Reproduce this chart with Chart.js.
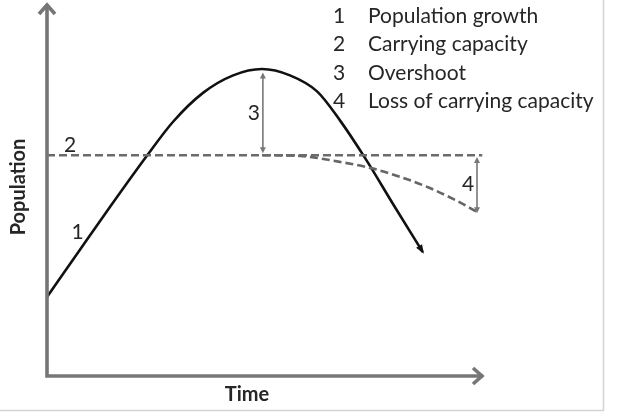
<!DOCTYPE html>
<html><head><meta charset="utf-8">
<script src="https://cdn.jsdelivr.net/npm/chart.js@4"></script>
<style>html,body{margin:0;padding:0;background:#fff;overflow:hidden}#wrap{width:618px;height:412px;position:relative}</style>
</head><body><div id="wrap"><canvas id="c" width="618" height="412"></canvas></div>
<script>
// ---- data (time 0..100, population 0..100) ----
const timeMain = [0, 7.5, 14.4, 22.9, 28.8, 35.7, 42.6, 49.2, 55.6, 61.8, 67.0, 72.8, 79.6, 86.0];
const populationMain = [21.2, 33.8, 45.3, 59.1, 68.1, 75.9, 80.6, 82.3, 80.6, 76.3, 68.6, 58.4, 45.3, 33.2];
const timeDecline = [49.2, 57.9, 67.0, 73.9, 80.8, 87.6, 93.4, 98.4];
const populationDecline = [59.2, 59.0, 57.4, 55.8, 53.4, 50.4, 47.2, 44.0];
const capacityTime = [0, 99.6];
const capacityLevel = [59.2, 59.2];
const overshootArrow = [49.4, 59.7, 81.4];   // time, from, to
const lossArrow = [98.4, 58.7, 43.6];         // time, from, to
const curveLabels = ['1', '2', '3', '4'];
const legendLabels = ['Population growth', 'Carrying capacity', 'Overshoot', 'Loss of carrying capacity'];
const axisTitles = ['Time', 'Population'];

const pts = (xs, ys) => xs.map((x, i) => ({x: x, y: ys[i]}));
const FONT = 'Lato, "Open Sans", sans-serif';
const TXT = '#262626';
const AXIS = '#767676';

function arrowHead(ctx, x1, y1, x2, y2, len, half, color) {
  const a = Math.atan2(y2 - y1, x2 - x1);
  ctx.save();
  ctx.fillStyle = color;
  ctx.beginPath();
  ctx.moveTo(x2, y2);
  ctx.lineTo(x2 - len * Math.cos(a) + half * Math.sin(a), y2 - len * Math.sin(a) - half * Math.cos(a));
  ctx.lineTo(x2 - len * Math.cos(a) - half * Math.sin(a), y2 - len * Math.sin(a) + half * Math.cos(a));
  ctx.closePath();
  ctx.fill();
  ctx.restore();
}

const decor = {
  id: 'decor',
  beforeDraw(chart) {
    const ctx = chart.ctx;
    ctx.save();
    ctx.fillStyle = '#fff';
    ctx.fillRect(0, 0, chart.width, chart.height);
    ctx.restore();
  },
  afterDatasetsDraw(chart) {
    const ctx = chart.ctx;
    const xs = chart.scales.x, ys = chart.scales.y;
    const X = v => xs.getPixelForValue(v), Y = v => ys.getPixelForValue(v);
    ctx.save();

    // frame lines
    ctx.strokeStyle = '#d4d4d4';
    ctx.lineWidth = 1.5;
    ctx.beginPath();
    ctx.moveTo(603.5, 0); ctx.lineTo(603.5, 410.5); ctx.lineTo(0, 410.5);
    ctx.stroke();

    // axes with open arrow heads
    const x0 = X(0), y0 = Y(0), xEnd = X(100), yEnd = Y(100) - 1;
    ctx.strokeStyle = AXIS;
    ctx.lineWidth = 3.6;
    ctx.lineJoin = 'miter';
    ctx.beginPath();
    ctx.moveTo(x0, yEnd + 2); ctx.lineTo(x0, y0); ctx.lineTo(xEnd - 1, y0);
    ctx.stroke();
    ctx.beginPath();
    ctx.moveTo(x0 - 8, yEnd + 12); ctx.lineTo(x0, yEnd + 3); ctx.lineTo(x0 + 8, yEnd + 12);
    ctx.stroke();
    ctx.beginPath();
    ctx.moveTo(xEnd - 11, y0 - 8); ctx.lineTo(xEnd - 2, y0); ctx.lineTo(xEnd - 11, y0 + 8);
    ctx.stroke();

    // arrow head at the end of the main curve
    const n = timeMain.length;
    arrowHead(ctx, X(timeMain[n - 2]), Y(populationMain[n - 2]), X(timeMain[n - 1]) + 1, Y(populationMain[n - 1]) + 1.5, 9, 3.5, '#111');

    // double arrows 3 and 4
    ctx.strokeStyle = '#777';
    ctx.lineWidth = 1.6;
    [overshootArrow, lossArrow].forEach(a => {
      const ax = X(a[0]), ya = Y(a[1]), yb = Y(a[2]);
      const dir = yb < ya ? 1 : -1;
      ctx.beginPath();
      ctx.moveTo(ax, ya - dir * 5); ctx.lineTo(ax, yb + dir * 5);
      ctx.stroke();
      arrowHead(ctx, ax, (ya + yb) / 2, ax, ya, 6, 3, '#777');
      arrowHead(ctx, ax, (ya + yb) / 2, ax, yb, 6, 3, '#777');
    });

    // curve labels
    ctx.fillStyle = TXT;
    ctx.font = '21px ' + FONT;
    ctx.textAlign = 'center';
    ctx.textBaseline = 'middle';
    ctx.fillText(curveLabels[0], X(7.0), Y(38.6));
    ctx.fillText(curveLabels[1], X(5.3), Y(62));
    ctx.fillText(curveLabels[2], X(overshootArrow[0]) - 9, (Y(overshootArrow[1]) + Y(overshootArrow[2])) / 2);
    ctx.fillText(curveLabels[3], X(lossArrow[0]) - 9, (Y(lossArrow[1]) + Y(lossArrow[2])) / 2 - 1);

    // legend block (top right)
    legendLabels.forEach((t, i) => {
      const yy = 16 + i * 28.5;
      ctx.textAlign = 'center';
      ctx.fillText(curveLabels[i], 339, yy);
      ctx.textAlign = 'left';
      ctx.fillText(t, 368, yy);
    });

    // axis titles
    ctx.font = 'bold 20px ' + FONT;
    ctx.textAlign = 'center';
    ctx.fillText(axisTitles[0], 247, 395);
    ctx.translate(19, 187);
    ctx.rotate(-Math.PI / 2);
    ctx.fillText(axisTitles[1], 0, 0);
    ctx.restore();
  }
};

new Chart(document.getElementById('c'), {
  type: 'line',
  data: {
    datasets: [
      {label: 'Carrying capacity', data: pts(capacityTime, capacityLevel), borderColor: '#6b6b6b', borderWidth: 2.5, borderDash: [8, 4], pointRadius: 0, tension: 0},
      {label: 'Loss of carrying capacity', data: pts(timeDecline, populationDecline), borderColor: '#666', borderWidth: 2.6, borderDash: [8, 4], pointRadius: 0, cubicInterpolationMode: 'monotone'},
      {label: 'Population growth', data: pts(timeMain, populationMain), borderColor: '#111', borderWidth: 2.6, pointRadius: 0, cubicInterpolationMode: 'monotone'}
    ]
  },
  options: {
    responsive: false,
    animation: false,
    devicePixelRatio: 1,
    clip: false,
    layout: {padding: {left: 47, right: 134, top: 3, bottom: 36}},
    plugins: {legend: {display: false}, tooltip: {enabled: false}},
    scales: {
      x: {type: 'linear', min: 0, max: 100, display: false},
      y: {type: 'linear', min: 0, max: 100, display: false}
    }
  },
  plugins: [decor]
});
</script></body></html>
